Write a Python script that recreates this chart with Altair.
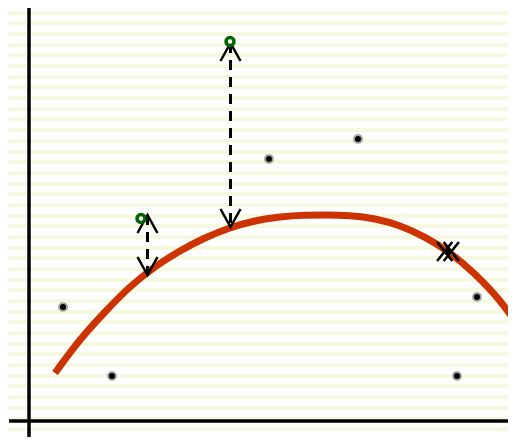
import altair as alt
import pandas as pd

# ---- data (1 unit = 50 px, origin at the crossing of the two axes) ----
curve_x = [0.52, 1.02, 1.52, 2.02, 2.52, 3.02, 3.52, 4.02, 4.52, 5.02, 5.52, 5.92,
           6.42, 6.92, 7.42, 7.92, 8.36, 8.92, 9.42, 9.72]
curve_y = [0.96, 1.62, 2.18, 2.68, 3.08, 3.40, 3.66, 3.86, 4.00, 4.08, 4.114, 4.12,
           4.104, 4.04, 3.90, 3.672, 3.40, 2.934, 2.40, 2.00]
dot_x = [0.68, 1.66, 4.80, 6.58, 8.96, 8.56]
dot_y = [2.28, 0.90, 5.24, 5.64, 2.48, 0.90]
removed_x = [8.38]
removed_y = [3.39]
new_x = [2.24, 4.02]
new_y = [4.05, 7.59]
arrow_x = [2.37, 4.03]
arrow_top = [4.12, 7.56]
arrow_bottom = [2.92, 3.88]

W, H = 500, 429
X_DOMAIN = [-0.42, 9.58]
Y_DOMAIN = [-0.32, 8.26]

xs = alt.Scale(domain=X_DOMAIN, nice=False, zero=False)
ys = alt.Scale(domain=Y_DOMAIN, nice=False, zero=False)

curve_df = pd.DataFrame({"x": curve_x, "y": curve_y})
dots_df = pd.DataFrame({"x": dot_x, "y": dot_y})
removed_df = pd.DataFrame({"x": removed_x, "y": removed_y})
new_df = pd.DataFrame({"x": new_x, "y": new_y})
arrow_df = pd.DataFrame({"x": arrow_x, "top": arrow_top, "bottom": arrow_bottom})
one = pd.DataFrame({"a": [0]})

# ---- striped background via a hard-stop gradient ----
YELLOW = "#f6f9e0"
period, band = 10.68, 4.0
stops = [alt.GradientStop(offset=0, color="white")]
n = 0
while True:
    y0 = n * period - 8
    y1 = y0 + band
    n += 1
    if y0 > H:
        break
    if y1 <= 0:
        continue
    o0 = max(0.0, y0 / H)
    o1 = min(1.0, y1 / H)
    stops += [
        alt.GradientStop(offset=o0, color="white"),
        alt.GradientStop(offset=o0, color=YELLOW),
        alt.GradientStop(offset=o1, color=YELLOW),
        alt.GradientStop(offset=o1, color="white"),
    ]
stops.append(alt.GradientStop(offset=1, color="white"))

bg = alt.Chart(one).mark_rect(
    fill=alt.LinearGradient(gradient="linear", stops=stops, x1=0, x2=0, y1=0, y2=1),
    stroke=None,
).encode(x=alt.value(0), x2=alt.value(W), y=alt.value(0), y2=alt.value(H))

vaxis = alt.Chart(one).mark_rule(color="black", strokeWidth=3.5).encode(
    x=alt.X(datum=0, scale=xs, axis=None), y=alt.value(0), y2=alt.value(H)
)
haxis = alt.Chart(one).mark_rule(color="black", strokeWidth=3.5).encode(
    y=alt.Y(datum=0, scale=ys, axis=None), x=alt.value(1), x2=alt.value(W)
)

curve = alt.Chart(curve_df).mark_line(
    color="#cc3300", strokeWidth=7, interpolate="monotone", clip=True, strokeCap="butt"
).encode(x=alt.X("x:Q", scale=xs, axis=None), y=alt.Y("y:Q", scale=ys, axis=None))

dash = alt.Chart(arrow_df).mark_rule(color="black", strokeWidth=3, strokeDash=[10, 7]).encode(
    x=alt.X("x:Q", scale=xs, axis=None),
    y=alt.Y("top:Q", scale=ys, axis=None),
    y2="bottom:Q",
)
head_up = alt.Chart(arrow_df).mark_point(
    shape="M-1,0.9L0,-0.9L1,0.9", size=400, filled=False, stroke="black",
    strokeWidth=2.5, opacity=1, yOffset=9,
).encode(x=alt.X("x:Q", scale=xs, axis=None), y=alt.Y("top:Q", scale=ys, axis=None))
head_down = alt.Chart(arrow_df).mark_point(
    shape="M-1,-0.9L0,0.9L1,-0.9", size=400, filled=False, stroke="black",
    strokeWidth=2.5, opacity=1, yOffset=-9,
).encode(x=alt.X("x:Q", scale=xs, axis=None), y=alt.Y("bottom:Q", scale=ys, axis=None))

dots = alt.Chart(dots_df).mark_point(
    shape="circle", size=64, filled=True, fill="black", stroke="#a8a8a8",
    strokeWidth=2, opacity=1,
).encode(x=alt.X("x:Q", scale=xs, axis=None), y=alt.Y("y:Q", scale=ys, axis=None))

removed_dot = alt.Chart(removed_df).mark_point(
    shape="circle", size=50, filled=True, fill="black", stroke="#a8a8a8",
    strokeWidth=1.5, opacity=1,
).encode(x=alt.X("x:Q", scale=xs, axis=None), y=alt.Y("y:Q", scale=ys, axis=None))
removed_x_mark = alt.Chart(removed_df).mark_point(
    shape="M-1.15,-1L0.45,1M-0.45,-1L1.15,1M1.15,-1L-0.45,1M0.45,-1L-1.15,1",
    size=361, filled=False, stroke="black", strokeWidth=2.5, opacity=1,
).encode(x=alt.X("x:Q", scale=xs, axis=None), y=alt.Y("y:Q", scale=ys, axis=None))

rings = alt.Chart(new_df).mark_point(
    shape="circle", size=64, filled=False, fill="white", stroke="#006400",
    strokeWidth=3.5, opacity=1,
).encode(x=alt.X("x:Q", scale=xs, axis=None), y=alt.Y("y:Q", scale=ys, axis=None))

chart = alt.layer(
    bg, vaxis, haxis, curve, dash, head_up, head_down, dots, removed_dot, removed_x_mark, rings
).properties(
    width=W, height=H, padding=0, autosize=alt.AutoSizeParams(type="none")
).configure_view(stroke=None)

chart.save("out.html", embed_options={"renderer": "svg", "actions": False})
